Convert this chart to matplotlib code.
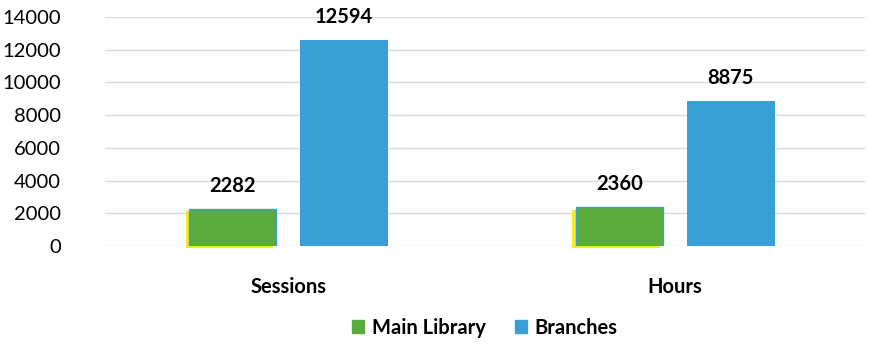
import numpy as np
import matplotlib.pyplot as plt
from matplotlib.patches import Patch

plt.rcParams['font.family'] = ['Lato', 'DejaVu Sans']

categories = ['Sessions', 'Hours']
main_library = [2282, 2360]
branches = [12594, 8875]

green = '#5aab3c'
blue = '#3a9fd4'

fig = plt.figure(figsize=(8.7, 3.44), dpi=100)
ax = fig.add_axes([0.121, 0.285, 0.873, 0.666])

x = np.arange(len(categories))
w = 0.227
off = 0.144

# yellow shadow behind the green bars
ax.bar(x - off - 0.008, main_library, w, bottom=-150, color='#f0ea2a', zorder=2, clip_on=False)
ax.bar(x - off, main_library, w, color=green, edgecolor=blue, linewidth=1.0, zorder=3)
ax.bar(x + off, branches, w, color=blue, zorder=3)

for xi, v in zip(x - off, main_library):
    ax.text(xi, v + 800, str(v), ha='center', va='bottom', fontsize=14.5, fontweight='bold')
for xi, v in zip(x + off, branches):
    ax.text(xi, v + 800, str(v), ha='center', va='bottom', fontsize=14.5, fontweight='bold')

ax.set_ylim(0, 14000)
ax.set_xlim(-0.473, 1.49)
ax.set_yticks(np.arange(0, 14001, 2000))
ax.set_xticks(x)
ax.set_xticklabels(categories, fontsize=14.5, fontweight='bold')
ax.tick_params(axis='y', labelsize=14.5, length=0, pad=32)
ax.tick_params(axis='x', length=0, pad=22)
ax.grid(axis='y', color='#d9d9d9', linewidth=1, zorder=0)
ax.set_axisbelow(True)
for s in ax.spines.values():
    s.set_visible(False)

handles = [Patch(color=green, label='Main Library'), Patch(color=blue, label='Branches')]
ax.legend(handles=handles, loc='upper center', bbox_to_anchor=(0.5, -0.235), ncol=2,
          frameon=False, prop={'size': 14.5, 'weight': 'bold'}, handlelength=0.6,
          handleheight=0.6, columnspacing=1.4, handletextpad=0.4)

fig.savefig('out.png', dpi=100, facecolor='white')
